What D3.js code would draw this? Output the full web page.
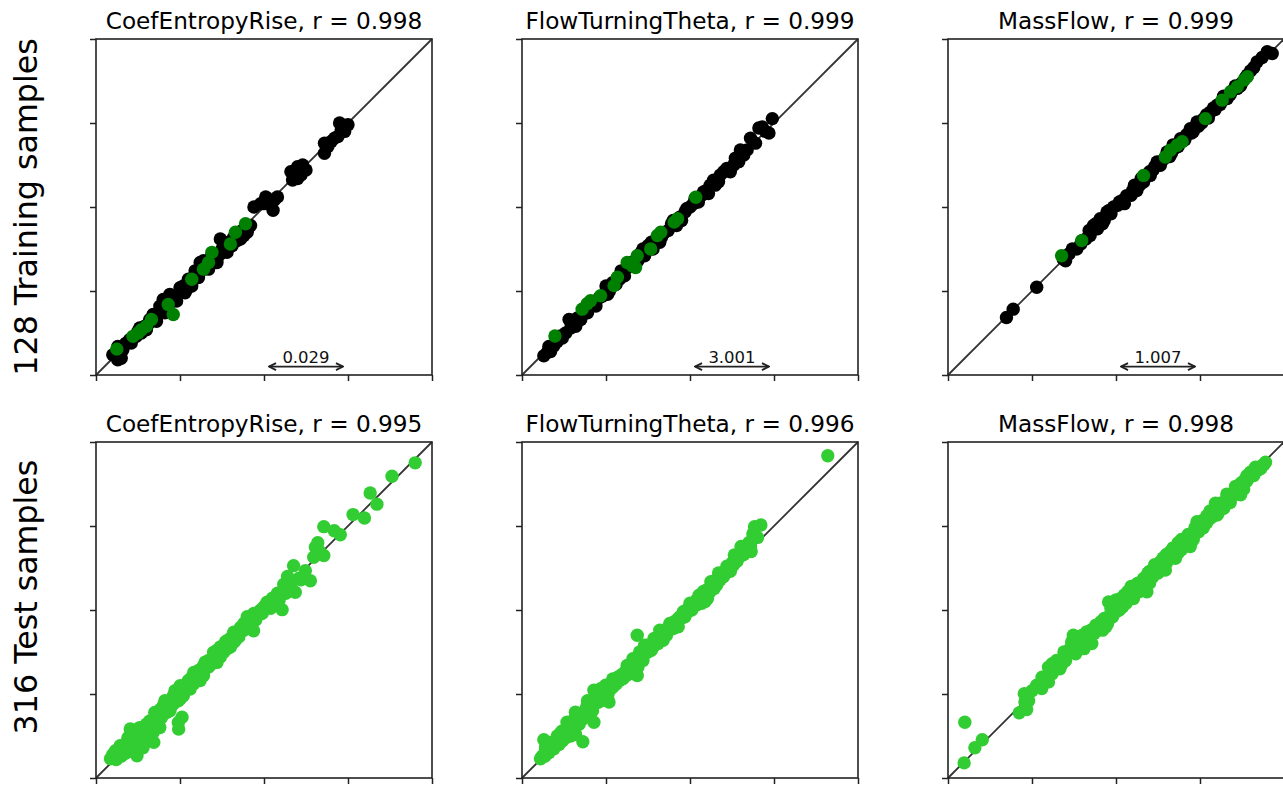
<!DOCTYPE html>
<html>
<head>
<meta charset="utf-8">
<script src="https://cdn.jsdelivr.net/npm/d3@7"></script>
<style>
  body { margin: 0; background: #fff; }
  svg { display: block; font-family: "DejaVu Sans", sans-serif; }
</style>
</head>
<body>
<svg id="chart"></svg>
<script>
// values are in percent of each axis range: [actual, predicted]
const quantities = ['CoefEntropyRise', 'FlowTurningTheta', 'MassFlow'];
const rowLabels = ['128 Training samples', '316 Test samples'];
const trainR = ['0.998', '0.999', '0.999'];
const testR = ['0.995', '0.996', '0.998'];
const spreadLabels = ['0.029', '3.001', '1.007'];
const spreadRange = [51.5, 73.5];
const axisTicks = [0, 25, 50, 75, 100];

const coefTrain = [
  [5,6],[6.5,4.5],[7.5,5],[8,7.5],[6.5,8.5],[9,9.5],[10,10.5],[11,11],[12,11.5],[12.5,13],
  [13.5,12.5],[14.5,14.5],[15.5,15],[16,16.5],[17.5,16.5],[18.5,18],[19.5,19],[20,22.5],[21,20.5],[22,21.5],
  [22.5,23.5],[23.5,22.5],[24.5,24],[25.5,25],[26,26.5],[27,25.5],[28,27],[29,29],[30,30.5],[31,33.5],
  [32,31.5],[33,32],[34,33],[35,35.5],[36,34.5],[37,40.5],[37.5,37.5],[38.5,37],[39.5,39.5],[40.5,38.5],
  [42,41],[43,40.5],[45,42.5],[45.5,44],[47,50],[49,51],[50.5,53],[52,51.5],[52.7,49],[54,53],
  [58,60.5],[58.5,58],[60,62],[61,59.5],[62.5,61],[68,69],[68,66],[70,69.5],[71,70.5],[72.5,75],
  [75,74.5],[74,72.5],[8.5,9],[10.5,9.5],[13,14],[15,13.5],[17,18],[18,16],[19,20.5],[20.5,18.5],
  [22,24],[24,22],[25,26],[26.5,24.5],[27.5,28.5],[28.5,26.5],[29.5,31],[30.5,29],[32,34],[33.5,31.5],
  [34.5,36],[36,33.5],[37,36],[38,39],[39,36.5],[41,41],[42,40],[43.5,43],[44,41.5],[46,44.5],
  [50,51],[51,52.5],[53,52],[59,59.5],[60,58.5],[61.5,62.5],[69,68],[73,73],[72,71]
];
const coefVal = [
  [6.2,7.7],[11,11.5],[12.5,12.5],[13.5,13.5],[15,14.5],[16.5,16.5],[21.5,21],[23,18],[28.5,28.5],[32,31.5],
  [33.5,33.5],[34.5,36.5],[40,39],[41.5,42.5],[44.5,45]
];
const flowTrain = [
  [6.5,5.7],[7.5,6.7],[8.5,7],[9.5,8.7],[10.5,10],[11.5,11.6],[13,12.5],[14,16.5],[14.5,14],[15.5,15],
  [16.5,17],[17.5,16.5],[18.5,19],[19.5,18.5],[21,21],[22,20.5],[23,23],[24,23.5],[25,26.5],[26,25],
  [27,27.5],[28,27],[29.5,31],[30.5,29.5],[31.5,32],[33,33],[34.5,34],[35.5,36.5],[36.5,35.5],[37.5,38.5],
  [39,37.5],[40,40.5],[41,39.5],[42,42],[43.5,43],[44.5,45],[46,44.5],[47,47],[48.5,48.5],[50,50],
  [51,51],[52.5,51.5],[53.5,53.5],[55,55],[56,56.5],[57,58],[58.5,57.5],[60,60.5],[61,61.5],[62,60.5],
  [63.5,64.5],[64.5,63.5],[65,67],[66,65.5],[68,70.5],[70.5,73.5],[72.5,72.5],[74.5,76.3],[8,8.5],[12,11],
  [16,14.5],[20,20.5],[25.5,24],[29,28.5],[32.5,33.5],[36,37.5],[38.5,39.5],[41.5,41],[45,46],[47.5,46],
  [49,49.5],[51.5,52.5],[54,54.5],[55.5,54],[57.5,56.5],[59,59.5],[63,62.5],[67,67],[69.5,69],[71.5,73.8],
  [73.5,72]
];
const flowVal = [
  [9.8,11.6],[17.9,19.6],[19.4,21.2],[20.4,22.1],[23.4,23.6],[27.4,26.6],[28.4,29.1],[31.3,33.5],[32.8,32.5],[34.3,35.5],
  [33.8,32],[38.3,37.5],[40.3,41.5],[41.3,42.5],[45.3,45.5],[46.3,46.5],[51.7,52.9]
];
const massTrain = [
  [17.4,17.1],[19.4,19.6],[26.4,26.1],[34.3,34.5],[36,36],[38.3,37.5],[39.5,39],[41,40.5],[42.3,41.5],[43.3,44.5],
  [44.5,43.5],[45.3,46.5],[46.5,46],[47.3,48.5],[48.5,48],[49.3,50],[50.5,50.5],[52,52],[53.2,53.4],[54.5,53.5],
  [56.2,54.9],[57,56.5],[58.2,57.4],[59,59],[60.2,59.4],[61,61],[62.2,63.4],[63.2,62.4],[64.5,64.5],[65.2,66.4],
  [66.5,66],[67.5,67.5],[69.2,70.3],[70.5,70],[72.1,73.3],[73,72.5],[74.1,75.3],[75.5,75],[76.1,76.3],[77,77.5],
  [78.1,78.3],[79.5,79],[80.1,80.3],[81.5,81.5],[83.1,82.3],[84.5,84.5],[86.1,85.3],[87.5,87],[89.1,89.3],[90,90.5],
  [92,93.2],[95,96.2],[96.5,95.7],[35,34],[37,37.5],[40,40],[42,43],[44,45],[46,45],[48,49],
  [51,51.5],[52.5,51],[55,55],[55.5,56.5],[57.5,58.5],[60,60.5],[61.5,62],[63.5,63.5],[66,65],[67,68.5],
  [68.5,68],[71,71.5],[72.5,72],[74.5,74],[77.5,76.5],[79,79.5],[81,80.5],[82,83],[84,83.5],[85.5,86],
  [87,86],[88.5,88.5],[91,91.5],[93.5,94.5]
];
const massVal = [
  [33.8,35.5],[39.8,40],[58.2,59.4],[64.7,64.9],[66.2,66.9],[68.2,68.4],[69.7,69.4],[76.6,76.3],[81.6,81.8],[84.1,84.3],
  [86.1,85.8],[88.1,87.8],[89.1,88.8]
];
const coefTest = [
  [95,93.8],[88.1,89.8],[81.6,84.8],[83.6,81.5],[76.5,78.4],[79.9,77.4],[67.8,74.8],[70.9,73.6],[72.7,72.4],[65.3,68.7],
  [64.8,65.7],[67.8,66.2],[58.8,63.2],[62.3,61.7],[63.8,58.7],[55.9,57.7],[57.8,56.3],[59.3,55.3],[60.5,59.5],[50.9,52.3],
  [53.9,51.3],[55.4,50.1],[52.5,53.5],[48.9,48.8],[47,49],[44.9,46.8],[46.9,43.8],[43,44.8],[41,43.4],[39,40.9],
  [38,37.4],[41,40.4],[42.5,42],[35,37.4],[36,34.4],[37,39],[32,33.4],[31,30.5],[33.5,35],[29.1,31.4],
  [28.1,28.5],[30,29],[25.1,27.5],[24.1,25.5],[26.5,26],[23.1,23.5],[25.6,18.1],[24.6,14.6],[21.1,22.5],[19.2,20.5],
  [22,20],[18.2,18.5],[16.7,16.6],[17.2,10.6],[15.2,14.6],[17,13.5],[13.2,11.6],[11.2,12.6],[10.2,14.6],[14,9],
  [11.2,8.6],[9.2,10.6],[7.2,9.6],[5.8,8.1],[4.3,5.7],[6.2,6.6],[8,7],[12.2,6.6],[13.5,14],[9.5,12],
  [66,70],[66.5,67.5],[61,59],[58,58],[57,60],[56.5,55],[54,55],[52,50.5],[50,51],[49,50],
  [47.5,47],[46,46],[45,48],[44,44],[42,43],[40,41.5],[40,39],[39,38.5],[37,36],[36,38],
  [34,35],[33,33.5],[31.5,32.5],[30,31.5],[29,28],[27.5,29],[27,27],[26,24.5],[24.5,23],[23,24.5],
  [22,22.5],[21,19.5],[20,21.5],[19,19],[18,17],[17.5,19.5],[16,15],[15,16],[14,13],[13,15],
  [12.5,11],[12,13],[11,10],[10,11.5],[9,9],[8,8.5],[7,7.5],[6,5.5],[5,7],[13,9],
  [15,11],[16,13],[19,15],[11,14],[24.5,16.5],[5.5,6.5],[6.5,8],[7.5,6.5],[8.5,10],[9,7.5],
  [10,9],[10.5,13],[11.5,11.5],[12,9.5],[12.5,14.5],[13.5,12.5],[14.5,14],[14.5,10.5],[15.5,13],[16,17],
  [17,15.5],[18,19.5],[18.5,16],[19.5,18],[20,20],[20.5,23],[21.5,21],[22.5,21.5],[23,22],[23.5,26],
  [24,24],[25,23.5],[25.5,25],[26,27],[27,28],[28,26.5],[28.5,30],[29.5,29.5],[30.5,32],[31,29],
  [32,30.5],[32.5,34.5],[33.5,33],[34.5,34],[35,36],[36.5,36],[37.5,38],[38.5,40.5],[39.5,39.5],[40.5,42],
  [41.5,41],[43,43.5],[44,46],[45.5,45],[46,47.5],[48,48.5],[49.5,49],[51,51.5],[52,52.5],[53,51.5],
  [54.5,53],[56,56.5],[57,55.5],[58,57]
];
const flowTest = [
  [91,95.9],[69.2,74.8],[71.1,75.3],[68.7,72.6],[70.1,71.6],[65.2,68.9],[68.2,67.4],[63.2,66.4],[62.2,62.4],[64,64.5],
  [59.2,60.4],[56.2,58.4],[57.2,56.4],[58,59],[55.2,53.4],[52.7,54.4],[51.2,51.4],[53.5,52],[49.3,49.5],[47.3,47.5],
  [45.3,46.5],[46.5,45],[43.3,44.5],[41.3,42.5],[42,41],[39.3,41.5],[37.3,39.5],[38.5,38],[35.8,36.5],[34.3,42.5],
  [33.3,34.5],[31.3,33.5],[34.3,30.5],[32,31],[29.4,30.5],[27.4,28.6],[24.9,27.6],[23.4,26.6],[21.4,26.1],[25.9,22.6],
  [22.4,23.6],[24,24],[19.4,21.6],[21.4,16.6],[17.4,18.6],[15.9,19.6],[15.4,15.6],[13.4,16.6],[13.4,13.6],[11.4,12.6],
  [18.1,10.8],[6.5,11.4],[8.5,10.6],[9.5,8.7],[7.5,7.7],[5.5,5.7],[10.4,10.6],[12,11],[14.5,12.5],[16.5,17],
  [20,19.5],[60.5,61.5],[61,63],[58.5,61],[57,57.5],[55.5,55.5],[54,55.5],[54.5,52.5],[52,53],[50.5,50],
  [50,52],[48.5,48],[48,49.5],[46.5,47.5],[45,44.5],[44,46],[43,43],[41,44],[40.5,40],[39,39],
  [37.5,37.5],[36.5,39.5],[36,35],[35,37.5],[34.5,33],[33,35.5],[32.5,32],[31,32],[30,29.5],[28.5,30],
  [28,28],[27,29.5],[26,26],[26.5,27.8],[25,25],[23.5,23],[22.5,25],[21,22],[20.5,20.5],[19.5,23],
  [18.5,19.5],[18,17.5],[17,16],[16.5,18.5],[15,17],[14,15],[13,12],[12,14],[10.5,12.5],[9,10],
  [8,9.5],[7,9.2],[6.8,6.5],[15.9,13],[62.5,64],[67.5,70],[66,68],[6,6.5],[7,8],[8,7.5],
  [9,9],[10,11],[11,10],[11.5,13.5],[12.5,12],[13.5,14.5],[14.5,14],[15,15.5],[16,16],[17,18],
  [18,19],[19,20.5],[20,21],[21,20],[21.5,23.5],[22.5,22.5],[23.5,25],[24.5,25.5],[25.5,24.5],[26,27],
  [27,27],[28,29],[29,29],[30,31],[31,30.5],[32,33],[33,33],[34,35],[35,35],[36,36.5],
  [37,38],[38,39],[39,40],[40,41],[41,41.5],[42,43.5],[43,42.5],[44,44.5],[45,45.5],[46,46],
  [47,48],[48,48],[49,50],[50,50.5],[51,52],[52,51.5],[53,53.5],[54,54],[55,56],[56,55.5],
  [57,58.5],[58,57.5],[59,59],[60,60],[61,62],[62,61.5],[63,63.5],[64,65.5],[65,66],[66,66.5],
  [67,68.5],[68,69]
];
const massTest = [
  [4.8,4.5],[5,16.6],[8,9],[10.2,11.4],[21.2,19.4],[23.4,20.4],[22.7,25.1],[22.9,22.6],[26.4,27.6],[27.9,26.6],
  [29.9,28.6],[29.9,33],[32.3,35],[33.3,32.5],[35.3,36.5],[37.3,42.5],[36.3,38.5],[38,37],[39.3,40.5],[41.3,43.5],
  [42.8,40],[44.8,44.5],[46.8,45.5],[47.8,52.4],[49.3,49.5],[48,47.5],[51.2,52],[53.2,53.4],[55.2,56.4],[55.2,53.4],
  [57,55.5],[58.2,59.4],[59.2,55.4],[60,58],[61.2,62.4],[63.2,64.4],[62.5,61],[64.7,61.9],[66.2,67.4],[67.7,65.4],
  [68,68.5],[69.2,69.4],[71.1,71.3],[72.1,68.9],[70,70],[73,72],[74.1,76.3],[74.6,73.3],[76.1,75.3],[78.1,77.3],
  [79.6,81.8],[80.1,78.3],[82.1,80.3],[81,80.5],[84.1,83.3],[85.6,86.8],[87.1,84.3],[88.1,87.3],[86.5,86],[90,89.8],
  [91,91.3],[92.5,92.2],[94,93.2],[89,88.5],[24,23],[25,26],[28,30],[31,31],[31,34],[34,34],
  [34.5,37.5],[36.8,40.5],[38.5,42],[40,41.5],[40.5,38.5],[42,42],[43.5,43],[44,45.5],[45.5,46.5],[46,44],
  [47.5,46],[48.5,50.5],[49,48],[50.5,50.5],[50,53],[52,51],[52.5,54.5],[54,54.5],[54.5,57],[56,56],
  [56.5,58],[57.5,57.5],[59,60],[60,61.5],[60.5,59.5],[62,63],[62.5,62],[63.5,63],[64,65.5],[65,64],
  [65.5,66.5],[66.5,65.5],[67,68.5],[68.5,67],[69.5,71],[70.5,69],[71.5,72.5],[72.5,70.5],[73.5,74.5],[75,74],
  [75.5,76.5],[76.5,77],[77,76],[78,79.5],[79,78],[80,80.5],[81,81.8],[82.5,82],[83,84.5],[84,82],
  [85,85],[86,84.5],[87,87.5],[88,86],[89,90],[90.5,90],[91.5,92.5],[93,92],[94.5,94],[30.5,31.5],
  [32,33],[33.5,35],[35,35],[36,37.5],[37.5,39],[39,39],[40,42.5],[41,41],[42.5,44],[43.5,44],
  [45,45.5],[46.5,47.5],[47,45],[48.5,49],[50,49.5],[51,50],[51.5,53.5],[53,52],[53.5,55.5],[55,54.5],
  [56,57.5],[57,57],[58.5,58.5],[59.5,61],[61,60],[61.5,63.5],[63,62.5],[64,63.5],[65,66.5],[66,66],
  [67.5,67],[68.5,70],[69.5,68],[71,70.5],[72,72.5],[73,71],[74,73.5],[75,75.5],[76,74.5],[77,78],
  [78.5,78.5],[79.5,80],[80.5,79],[82,81],[83,83.5],[84.5,84],[85.5,85.5],[86.5,87],[87.5,88],[88.5,89],
  [90,91],[91,90],[92,91.5],[93.5,93]
];

const W = 1283, H = 785;
const size = 336;
const lefts = [96, 522, 948];
const tops = [39, 442];
const dotR = 6.7;

const svg = d3.select('#chart').attr('width', W).attr('height', H);

const x = d3.scaleLinear().domain([0, 100]).range([0, size]);
const y = d3.scaleLinear().domain([0, 100]).range([size, 0]);

const panels = [
  { row: 0, col: 0, title: `${quantities[0]}, r = ${trainR[0]}`, layers: [[coefTrain, '#000'], [coefVal, 'green']], spread: spreadLabels[0] },
  { row: 0, col: 1, title: `${quantities[1]}, r = ${trainR[1]}`, layers: [[flowTrain, '#000'], [flowVal, 'green']], spread: spreadLabels[1] },
  { row: 0, col: 2, title: `${quantities[2]}, r = ${trainR[2]}`, layers: [[massTrain, '#000'], [massVal, 'green']], spread: spreadLabels[2] },
  { row: 1, col: 0, title: `${quantities[0]}, r = ${testR[0]}`, layers: [[coefTest, 'limegreen']] },
  { row: 1, col: 1, title: `${quantities[1]}, r = ${testR[1]}`, layers: [[flowTest, 'limegreen']] },
  { row: 1, col: 2, title: `${quantities[2]}, r = ${testR[2]}`, layers: [[massTest, 'limegreen']] },
];

const defs = svg.append('defs');
defs.append('marker')
  .attr('id', 'head')
  .attr('viewBox', '0 0 10 10')
  .attr('refX', 9).attr('refY', 5)
  .attr('markerWidth', 10).attr('markerHeight', 10)
  .attr('markerUnits', 'userSpaceOnUse')
  .attr('orient', 'auto-start-reverse')
  .append('path')
  .attr('d', 'M2,1.5 L9,5 L2,8.5')
  .attr('fill', 'none')
  .attr('stroke', '#222')
  .attr('stroke-width', 1.8);

panels.forEach(p => {
  const g = svg.append('g').attr('transform', `translate(${lefts[p.col]},${tops[p.row]})`);

  g.append('text')
    .attr('x', size / 2).attr('y', -10.5)
    .attr('text-anchor', 'middle')
    .attr('font-size', 23.2)
    .attr('fill', '#000')
    .text(p.title);

  // identity line
  g.append('line')
    .attr('x1', x(0)).attr('y1', y(0))
    .attr('x2', x(100)).attr('y2', y(100))
    .attr('stroke', '#333').attr('stroke-width', 1.8);

  p.layers.forEach(([pts, c]) => {
    g.append('g').selectAll('circle')
      .data(pts)
      .join('circle')
      .attr('cx', d => x(d[0]))
      .attr('cy', d => y(d[1]))
      .attr('r', dotR)
      .attr('fill', c);
  });

  if (p.spread) {
    const ay = y(2.5);
    g.append('line')
      .attr('x1', x(spreadRange[0])).attr('y1', ay)
      .attr('x2', x(spreadRange[1])).attr('y2', ay)
      .attr('stroke', '#222').attr('stroke-width', 1.6)
      .attr('marker-start', 'url(#head)')
      .attr('marker-end', 'url(#head)');
    g.append('text')
      .attr('x', x((spreadRange[0] + spreadRange[1]) / 2))
      .attr('y', ay - 4)
      .attr('text-anchor', 'middle')
      .attr('font-size', 16.5)
      .attr('fill', '#111')
      .text(p.spread);
  }

  const axL = g.append('g')
    .call(d3.axisLeft(y).tickValues(axisTicks).tickSize(6).tickFormat(''));
  const axB = g.append('g').attr('transform', `translate(0,${size})`)
    .call(d3.axisBottom(x).tickValues(axisTicks).tickSize(6).tickFormat(''));
  [axL, axB].forEach(a => {
    a.select('.domain').remove();
    a.selectAll('.tick line').attr('stroke', '#222').attr('stroke-width', 1.5);
  });

  g.append('rect')
    .attr('width', size).attr('height', size)
    .attr('fill', 'none')
    .attr('stroke', '#222').attr('stroke-width', 1.6);
});

// row labels
const rowCenters = [207, 597];
rowLabels.forEach((t, i) => {
  svg.append('text')
    .attr('transform', `translate(37,${rowCenters[i]}) rotate(-90)`)
    .attr('text-anchor', 'middle')
    .attr('font-size', 31.7)
    .attr('fill', '#000')
    .text(t);
});
</script>
</body>
</html>
